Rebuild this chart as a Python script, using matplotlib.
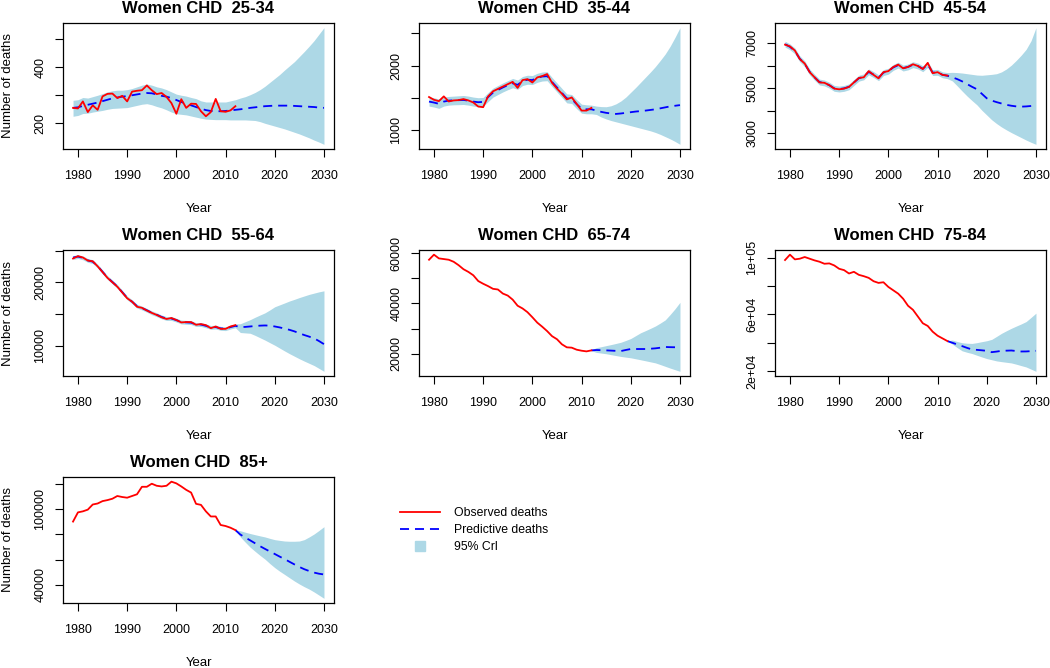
import numpy as np
import matplotlib
matplotlib.use("Agg")
import matplotlib.pyplot as plt
from matplotlib.lines import Line2D

plt.rcParams['font.family'] = ['Liberation Sans', 'DejaVu Sans']

years_obs = list(range(1979, 2013))
years_full = list(range(1979, 2031))
years_post = list(range(2012, 2031))

titles = ["Women CHD  25-34", "Women CHD  35-44", "Women CHD  45-54",
          "Women CHD  55-64", "Women CHD  65-74", "Women CHD  75-84",
          "Women CHD  85+"]

# ---- 25-34 ----
obs1 = [255, 253, 278, 240, 264, 248, 296, 305, 306, 290, 298, 278, 313, 316, 318, 335, 318,
        304, 308, 294, 272, 234, 286, 255, 270, 269, 243, 225, 240, 287, 243, 241, 246, 261]
pred1 = [255, 257, 262, 266, 270, 274, 279, 284, 289, 292, 295, 297, 300, 303, 306, 308, 307,
         303, 298, 295, 290, 283, 276, 270, 264, 258, 252, 247, 244, 243, 243, 244, 246, 248,
         250, 252, 255, 257, 259, 261, 262, 263, 263, 263, 263, 262, 261, 260, 259, 258, 256, 255]
upper1 = [282, 284, 292, 290, 295, 300, 306, 312, 316, 318, 318, 320, 324, 330, 336, 340, 336,
          330, 326, 320, 312, 304, 300, 297, 292, 288, 280, 276, 276, 276, 276, 276, 280, 284,
          290, 295, 302, 310, 320, 332, 346, 360, 374, 390, 405, 420, 438, 456, 475, 495, 518, 541]
lower1 = [225, 228, 235, 236, 240, 243, 246, 250, 253, 254, 255, 256, 260, 264, 268, 270, 266,
          260, 255, 248, 240, 234, 232, 230, 226, 222, 218, 215, 214, 213, 213, 213, 212, 212,
          212, 212, 211, 210, 206, 200, 195, 190, 185, 180, 174, 168, 162, 155, 148, 140, 133, 125]

# ---- 35-44 ----
obs2 = [1511, 1468, 1447, 1521, 1442, 1458, 1463, 1479, 1458, 1426, 1363, 1353, 1521, 1600,
        1637, 1674, 1711, 1747, 1653, 1774, 1789, 1737, 1816, 1837, 1868, 1732, 1642, 1563,
        1474, 1505, 1405, 1300, 1300, 1342]
pred2 = [1440, 1425, 1405, 1440, 1455, 1460, 1462, 1465, 1455, 1440, 1430, 1435, 1510, 1580,
         1620, 1660, 1695, 1725, 1700, 1760, 1780, 1775, 1810, 1830, 1835, 1745, 1660, 1575,
         1490, 1480, 1400, 1330, 1320, 1320, 1300, 1280, 1265, 1255, 1248, 1255, 1265, 1275,
         1285, 1292, 1300, 1310, 1320, 1335, 1350, 1365, 1375, 1385]
upper2 = [1510, 1500, 1480, 1510, 1520, 1525, 1530, 1535, 1525, 1510, 1500, 1505, 1580, 1650,
          1690, 1730, 1765, 1800, 1775, 1830, 1850, 1845, 1880, 1900, 1905, 1815, 1730, 1645,
          1560, 1550, 1470, 1400, 1390, 1385, 1370, 1362, 1360, 1375, 1405, 1450, 1510, 1585,
          1660, 1740, 1820, 1900, 1985, 2080, 2180, 2300, 2440, 2590]
lower2 = [1370, 1355, 1335, 1370, 1385, 1390, 1392, 1395, 1385, 1370, 1360, 1365, 1440, 1510,
          1550, 1590, 1625, 1655, 1630, 1690, 1710, 1705, 1740, 1760, 1765, 1675, 1590, 1505,
          1420, 1410, 1330, 1260, 1250, 1250, 1240, 1200, 1170, 1145, 1125, 1105, 1085, 1065,
          1045, 1025, 1005, 985, 960, 930, 895, 860, 820, 775]

# ---- 45-54 ----
obs3 = [6927, 6851, 6668, 6288, 6090, 5709, 5481, 5253, 5237, 5131, 4979, 4948, 4979, 5055,
        5253, 5451, 5481, 5755, 5588, 5435, 5709, 5755, 5938, 6044, 5877, 5938, 6059, 5983,
        5846, 6120, 5663, 5709, 5588, 5557]
pred3 = [6950, 6830, 6650, 6300, 6080, 5720, 5480, 5270, 5230, 5130, 4990, 4960, 4990, 5060,
         5250, 5440, 5500, 5720, 5600, 5460, 5690, 5750, 5920, 6020, 5890, 5940, 6040, 5980,
         5860, 6050, 5690, 5700, 5590, 5550, 5480, 5400, 5300, 5180, 5060, 4950, 4750, 4550,
         4450, 4380, 4320, 4260, 4220, 4190, 4180, 4190, 4210, 4230]
upper3 = [7080, 6960, 6780, 6430, 6210, 5850, 5610, 5400, 5360, 5260, 5120, 5090, 5120, 5190,
          5380, 5570, 5630, 5850, 5730, 5590, 5820, 5880, 6050, 6150, 6020, 6070, 6170, 6110,
          5990, 6180, 5820, 5830, 5720, 5690, 5700, 5690, 5670, 5640, 5610, 5580, 5570, 5590,
          5610, 5640, 5720, 5850, 6020, 6230, 6460, 6720, 7100, 7680]
lower3 = [6820, 6700, 6520, 6170, 5950, 5590, 5350, 5140, 5100, 5000, 4860, 4830, 4860, 4930,
          5120, 5310, 5370, 5590, 5470, 5330, 5560, 5620, 5790, 5890, 5760, 5810, 5910, 5850,
          5730, 5920, 5560, 5570, 5460, 5420, 5320, 5100, 4870, 4650, 4450, 4260, 4020, 3810,
          3600, 3430, 3280, 3150, 3030, 2920, 2810, 2700, 2600, 2510]

# ---- 55-64 ----
obs4 = [23743, 24118, 23904, 23422, 23315, 22513, 21604, 20695, 20000, 19305, 18396, 17487,
        16952, 16150, 15989, 15561, 15187, 14866, 14492, 14225, 14385, 14064, 13690, 13743,
        13743, 13316, 13422, 13262, 12781, 13048, 12674, 12674, 13048, 13262]
pred4 = [23900, 24050, 23850, 23450, 23250, 22550, 21650, 20750, 20050, 19350, 18450, 17550,
         16950, 16250, 15950, 15600, 15200, 14900, 14550, 14300, 14300, 14050, 13750, 13700,
         13650, 13350, 13350, 13150, 12900, 12950, 12750, 12700, 12950, 13150, 12950, 12980,
         13050, 13120, 13180, 13210, 13180, 13050, 12900, 12720, 12520, 12280, 11980, 11700,
         11450, 11180, 10750, 10270]
upper4 = [24200, 24350, 24150, 23750, 23550, 22850, 21950, 21050, 20350, 19650, 18750, 17850,
          17250, 16550, 16250, 15900, 15500, 15200, 14850, 14600, 14600, 14350, 14050, 14000,
          13950, 13650, 13650, 13450, 13200, 13250, 13050, 13000, 13250, 13450, 13480, 13800,
          14120, 14500, 14850, 15190, 15650, 16150, 16450, 16750, 17060, 17320, 17600, 17850,
          18100, 18300, 18500, 18660]
lower4 = [23600, 23750, 23550, 23150, 22950, 22250, 21350, 20450, 19750, 19050, 18150, 17250,
          16650, 15950, 15650, 15300, 14900, 14600, 14250, 14000, 14000, 13750, 13450, 13400,
          13350, 13050, 13050, 12850, 12600, 12650, 12450, 12400, 12650, 12850, 12100, 12040,
          11980, 11650, 11280, 10910, 10500, 10100, 9650, 9200, 8770, 8370, 7970, 7600,
          7250, 6900, 6450, 5990]

# ---- 65-74 ----
obs5 = [57416, 59435, 57954, 57685, 57416, 56608, 55262, 53647, 52570, 51225, 48937, 47860,
        46918, 45841, 45572, 43957, 43149, 41534, 39112, 38035, 36555, 34536, 32382, 30767,
        29017, 26999, 25787, 23769, 22557, 22423, 21615, 21211, 20942, 21346]
pred5 = [21346, 21480, 21420, 21346, 21250, 21150, 21077, 21500, 21884, 21884, 21884, 21884,
         22000, 22153, 22400, 22692, 22620, 22580, 22557]
upper5 = [21500, 22423, 22800, 23230, 23650, 24100, 24576, 25300, 26056, 27200, 28345, 29200,
          30100, 31036, 32200, 33459, 35600, 37900, 40458]
lower5 = [21200, 20538, 20270, 20000, 19630, 19280, 18923, 18650, 18385, 18000, 17600, 17200,
          16780, 16366, 15700, 15000, 14300, 13650, 13001]

# ---- 75-84 ----
obs6 = [98292, 102088, 98766, 99241, 100427, 99241, 98055, 97106, 95682, 95919, 94496, 92123,
        91174, 88802, 89988, 87853, 86904, 85718, 83345, 82159, 82633, 79312, 76940, 74567,
        71008, 66026, 63179, 58434, 53689, 51791, 47758, 44911, 43013, 41115]
pred6 = [41115, 39929, 38700, 37556, 36300, 35184, 34900, 34600, 34235, 33286, 33700, 34235,
         34350, 34472, 34100, 33760, 33800, 34000, 34235]
upper6 = [41300, 41827, 40800, 39929, 39600, 39454, 40000, 40700, 41352, 42301, 44400, 46572,
          48400, 50130, 51700, 53200, 54875, 57800, 60806]
lower6 = [40900, 38980, 36500, 34235, 33200, 32337, 31100, 29900, 28778, 27950, 27117, 26600,
          26150, 25694, 24800, 23800, 22847, 21300, 19763]

# ---- 85+ ----
obs7 = [90136, 97453, 98266, 99621, 103686, 104499, 106396, 107209, 108293, 110461, 109648,
        109106, 110461, 111816, 117778, 117778, 120217, 118591, 118049, 118591, 121843, 120488,
        118049, 115339, 113171, 104228, 103415, 98266, 94201, 94201, 87425, 86612, 85257, 83360]
pred7 = [83360, 79837, 77500, 75230, 72900, 70600, 68455, 66400, 64390, 62300, 60325, 58200,
         56100, 54092, 52300, 50840, 49600, 48700, 48130]
upper7 = [83500, 82818, 81700, 80650, 79700, 78800, 77940, 76800, 75772, 75200, 74688, 74500,
          74500, 74688, 75800, 77940, 80300, 83100, 86070]
lower7 = [83200, 77940, 73800, 69810, 66500, 63300, 60325, 56800, 53550, 50700, 48130, 45500,
          42900, 40542, 38400, 36477, 34200, 31700, 29160]

xticks = [1980, 1990, 2000, 2010, 2020, 2030]

yticks = [
    ([200, 300, 400, 500], ['200', '', '400', '']),
    ([1000, 1500, 2000, 2500], ['1000', '', '2000', '']),
    ([3000, 4000, 5000, 6000, 7000], ['3000', '', '5000', '', '7000']),
    ([10000, 15000, 20000, 25000], ['10000', '', '20000', '']),
    ([20000, 30000, 40000, 50000, 60000], ['20000', '', '40000', '', '60000']),
    ([20000, 40000, 60000, 80000, 100000], ['2e+04', '', '6e+04', '', '1e+05']),
    ([40000, 60000, 80000, 100000, 120000], ['40000', '', '', '100000', '']),
]

panels = [
    (obs1, years_full, pred1, upper1, lower1),
    (obs2, years_full, pred2, upper2, lower2),
    (obs3, years_full, pred3, upper3, lower3),
    (obs4, years_full, pred4, upper4, lower4),
    (obs5, years_post, pred5, upper5, lower5),
    (obs6, years_post, pred6, upper6, lower6),
    (obs7, years_post, pred7, upper7, lower7),
]

W, H = 1050, 668
fig = plt.figure(figsize=(W / 100, H / 100), dpi=100)

col_left = [63, 419, 775]
row_top = [23, 250, 477]
aw, ah = 271, 126

RED = '#FF0000'
BLUE = '#0000FF'
BAND = '#ADD8E6'
TICKFS = 9
LABFS = 9.5

for i, (obs, yrs, pred, up, lo) in enumerate(panels):
    r, c = divmod(i, 3)
    ax = fig.add_axes([col_left[c] / W, 1 - (row_top[r] + ah) / H, aw / W, ah / H])
    ax.fill_between(yrs, lo, up, color=BAND, linewidth=0)
    ax.plot(yrs, pred, color=BLUE, lw=1.3, linestyle=(0, (5, 3.3)))
    ax.plot(years_obs, obs, color=RED, lw=1.3)
    xr = 2030 - 1979
    ax.set_xlim(1979 - 0.04 * xr, 2030 + 0.04 * xr)
    vals = list(obs) + list(up) + list(lo)
    vmin, vmax = min(vals), max(vals)
    pad = 0.04 * (vmax - vmin)
    ax.set_ylim(vmin - pad, vmax + pad)
    ax.set_xticks(xticks)
    ax.set_xticklabels([str(x) for x in xticks], fontsize=TICKFS)
    tk, tl = yticks[i]
    ax.set_yticks(tk)
    ax.set_yticklabels(tl, fontsize=TICKFS, rotation=90, va='center')
    ax.tick_params(direction='out', length=6, width=0.8, colors='black')
    ax.tick_params(axis='x', pad=9)
    ax.tick_params(axis='y', pad=6)
    for s in ax.spines.values():
        s.set_linewidth(0.9)
        s.set_color('black')
    ax.set_title(titles[i], fontsize=12, fontweight='bold', pad=7)
    ax.set_xlabel('Year', fontsize=LABFS)
    ax.xaxis.set_label_coords(0.5, -60 / ah)
    ax.xaxis.label.set_va('center')
    if c == 0:
        ax.set_ylabel('Number of deaths', fontsize=LABFS)
        ax.yaxis.set_label_coords(-55 / aw, 0.5)
        ax.yaxis.label.set_va('center')

handles = [
    Line2D([], [], color=RED, lw=1.3),
    Line2D([], [], color=BLUE, lw=1.3, linestyle=(0, (5, 3.3))),
    Line2D([], [], color=BAND, marker='s', markersize=7, linestyle='none'),
]
labels = ['Observed deaths', 'Predictive deaths', '95% Crl']
fig.legend(handles, labels, loc='upper left', bbox_to_anchor=(400 / W, 1 - 507 / H),
           frameon=False, fontsize=8.8, handlelength=3.3, handletextpad=1.15,
           labelspacing=0.42, borderpad=0, borderaxespad=0)

fig.savefig('out.png', dpi=100)
